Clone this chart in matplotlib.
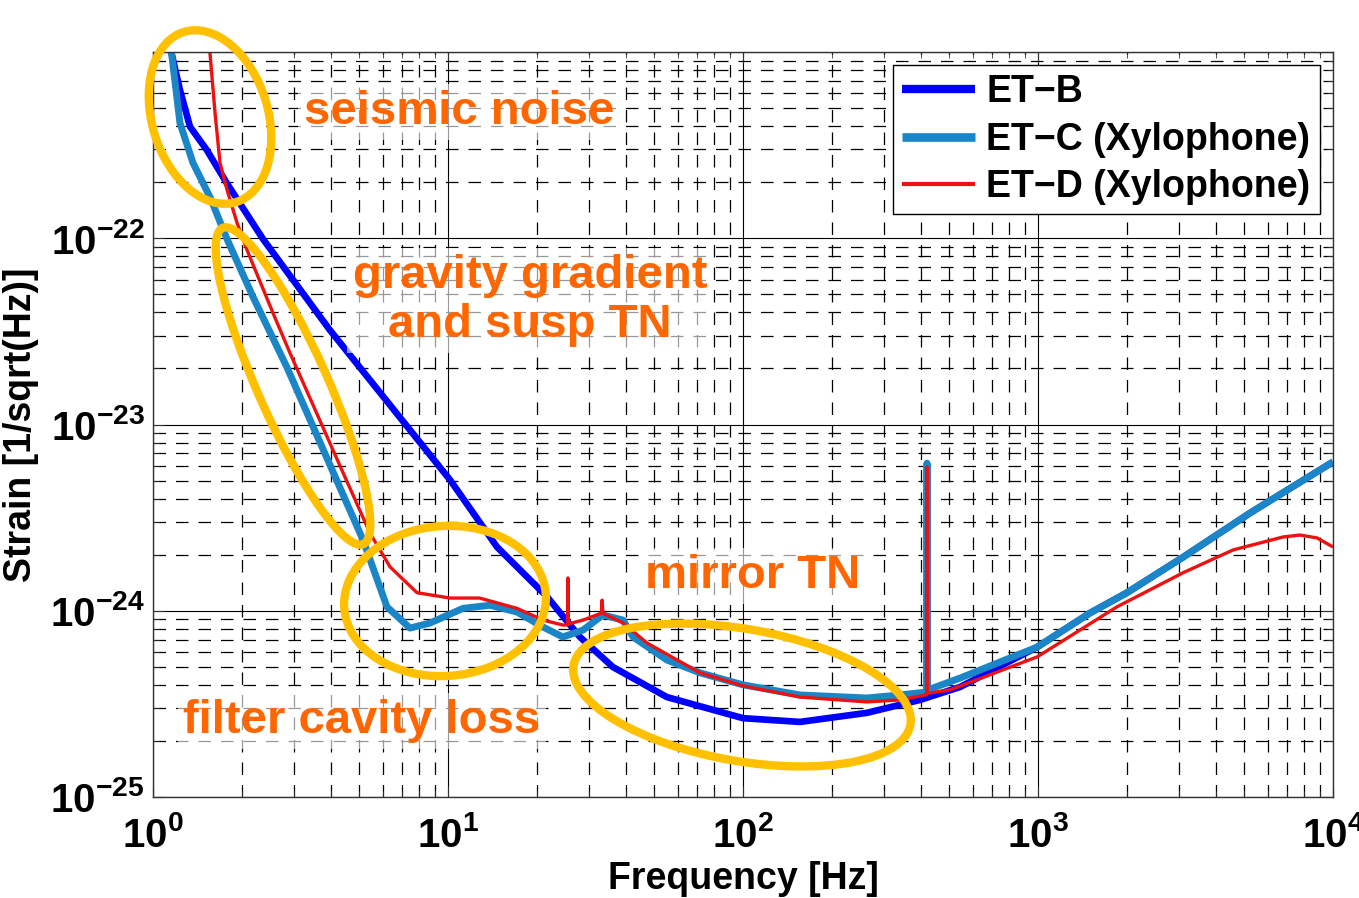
import matplotlib
matplotlib.use("Agg")
import matplotlib.pyplot as plt
from matplotlib.patches import Ellipse
from matplotlib.ticker import LogLocator, NullFormatter, FixedLocator, FixedFormatter

plt.rcParams['font.family'] = ['Liberation Sans', 'DejaVu Sans']
plt.rcParams['font.weight'] = 'bold'
plt.rcParams['mathtext.fontset'] = 'custom'
plt.rcParams['mathtext.rm'] = 'Liberation Sans:bold'
plt.rcParams['mathtext.bf'] = 'Liberation Sans:bold'

# ET-B
etb_f = [1.14, 1.157, 1.234, 1.335, 1.521, 1.777, 2.36, 3.98, 10.16, 14.66, 21.65,
         28.0, 36.2, 55.2, 100, 156, 263, 398, 545, 993, 1500, 2003, 3104, 5236, 10000]
etb_h = [1.05e-21, 9.76e-22, 6.25e-22, 3.97e-22, 2.98e-22, 1.98e-22, 9.9e-23, 3.21e-23,
         5.04e-24, 2.20e-24, 1.19e-24, 7.23e-25, 4.99e-25, 3.44e-25, 2.65e-25, 2.53e-25,
         2.83e-25, 3.32e-25, 3.90e-25, 6.38e-25, 9.72e-25, 1.25e-24, 1.94e-24, 3.35e-24, 6.3e-24]

# ET-C (Xylophone)
etc_f = [1.14, 1.157, 1.234, 1.366, 1.561, 1.782, 2.183, 2.84, 5.15, 6.21, 7.43, 8.69,
         11.24, 13.88, 17.13, 21.0, 24.5, 28.7, 33.5, 39.2, 42.4, 55.2, 71.5, 100, 156,
         263, 340, 419, 420.5, 422, 441, 544, 993, 1500, 2003, 3104, 5236, 10000]
etc_h = [1.05e-21, 9.76e-22, 4.16e-22, 2.54e-22, 1.66e-22, 9.9e-23, 4.84e-23, 2.04e-23,
         2.4e-24, 1.05e-24, 8.07e-25, 8.59e-25, 1.03e-24, 1.07e-24, 9.85e-25, 8.18e-25,
         7.23e-25, 7.88e-25, 9.49e-25, 8.91e-25, 7.23e-25, 5.44e-25, 4.64e-25, 4.0e-25,
         3.53e-25, 3.40e-25, 3.53e-25, 3.66e-25, 6.2e-24, 3.7e-25, 3.85e-25, 4.35e-25,
         6.38e-25, 9.72e-25, 1.25e-24, 1.94e-24, 3.35e-24, 6.3e-24]

# ET-D (Xylophone)
etd_f = [1.55, 1.561, 1.623, 1.687, 1.782, 1.927, 2.083, 2.551, 2.913, 4.41, 5.44, 6.36,
         7.85, 10.16, 12.8, 17.13, 21.0, 24.5, 25.4, 25.5, 25.6, 28.7, 33.1, 33.3, 33.5,
         39.2, 47.3, 71.5, 100, 156, 263, 340, 414, 419.5, 420.5, 421.5, 503, 993, 1853,
         3104, 4581, 6776, 7730, 8830, 10000]
etd_h = [1.05e-21, 9.76e-22, 4.70e-22, 2.54e-22, 1.82e-22, 1.21e-22, 8.65e-23, 3.97e-23,
         2.42e-23, 5.50e-24, 2.61e-24, 1.72e-24, 1.25e-24, 1.17e-24, 1.17e-24, 1.03e-24,
         8.91e-25, 8.38e-25, 8.4e-25, 1.5e-24, 8.5e-25, 8.91e-25, 9.7e-25, 1.14e-24, 9.7e-25,
         8.59e-25, 6.71e-25, 4.64e-25, 3.95e-25, 3.44e-25, 3.24e-25, 3.32e-25, 3.53e-25,
         3.55e-25, 5.92e-24, 3.6e-25, 3.76e-25, 5.65e-25, 1.05e-24, 1.60e-24, 2.12e-24,
         2.49e-24, 2.55e-24, 2.46e-24, 2.20e-24]

x_ticks = [1, 10, 100, 1000, 10000]
x_tick_labels = ['$10^{0}$', '$10^{1}$', '$10^{2}$', '$10^{3}$', '$10^{4}$']
y_ticks = [1e-25, 1e-24, 1e-23, 1e-22, 1e-21]
y_tick_labels = ['$10^{-25}$', '$10^{-24}$', '$10^{-23}$', '$10^{-22}$', '']

fig = plt.figure(figsize=(13.59, 8.98), dpi=100)
ax = fig.add_axes([153 / 1359, 1 - 797 / 898, 1180 / 1359, 745 / 898])

ax.plot(etb_f, etb_h, color='#0000ff', lw=4.8, label='ET\u2212B', solid_capstyle='butt')
ax.plot(etc_f, etc_h, color='#1a86c8', lw=5.0, label='ET\u2212C (Xylophone)', solid_capstyle='butt')
ax.plot(etd_f, etd_h, color='#ee1111', lw=2.4, label='ET\u2212D (Xylophone)', solid_capstyle='butt')

ax.set_xscale('log')
ax.set_yscale('log')
ax.set_xlim(1, 1e4)
ax.set_ylim(1e-25, 1e-21)

ax.xaxis.set_major_locator(FixedLocator(x_ticks))
ax.xaxis.set_major_formatter(FixedFormatter(x_tick_labels))
ax.yaxis.set_major_locator(FixedLocator(y_ticks))
ax.yaxis.set_major_formatter(FixedFormatter(y_tick_labels))
ax.xaxis.set_minor_locator(LogLocator(base=10, subs=range(2, 10), numticks=20))
ax.yaxis.set_minor_locator(LogLocator(base=10, subs=range(2, 10), numticks=20))
ax.xaxis.set_minor_formatter(NullFormatter())
ax.yaxis.set_minor_formatter(NullFormatter())

ax.tick_params(which='both', direction='in', top=True, right=True, colors='#333333')
ax.tick_params(which='major', length=8, width=0.8, labelsize=29, labelcolor='black')
ax.tick_params(which='minor', length=4, width=0.6)
ax.tick_params(axis='x', which='major', pad=14)
ax.tick_params(axis='y', which='major', pad=6)

ax.grid(True, which='major', color='black', lw=0.8, ls='-')
ax.grid(True, which='minor', color='black', lw=0.9, ls=(0, (10, 8)))
ax.set_axisbelow(True)
for s in ax.spines.values():
    s.set_color('#333333')
    s.set_linewidth(1.0)

ax.set_xlabel('Frequency [Hz]', fontsize=27, fontweight='bold', labelpad=4)
ax.set_ylabel('Strain [1/sqrt(Hz)]', fontsize=27, fontweight='bold', labelpad=8)

leg = ax.legend(loc='upper right', fontsize=27, handlelength=1.95, handletextpad=0.3,
                labelspacing=0.3, borderpad=0.25, borderaxespad=0.35, fancybox=False,
                framealpha=1, edgecolor='black')
leg.get_frame().set_linewidth(1.0)
for ln in leg.get_lines():
    ln.set_linewidth(ln.get_linewidth() * 1.25)

# overlay in pixel coordinates for the annotations
ov = fig.add_axes([0, 0, 1, 1])
ov.set_xlim(0, 1359)
ov.set_ylim(898, 0)
ov.axis('off')
ov.patch.set_alpha(0)

gold = '#ffc000'
for (cx, cy, w, h, ang) in [(210, 117, 178, 116, 73),
                             (293, 386, 346, 70, 66),
                             (445, 601, 202, 150, -4),
                             (742, 695, 342, 132, 10)]:
    ov.add_patch(Ellipse((cx, cy), w, h, angle=ang, fill=False, ec=gold, lw=6))

orange = '#ff6600'
box = dict(facecolor='white', alpha=0.6, edgecolor='none', pad=4)
ov.text(459, 124, 'seismic noise', color=orange, fontsize=34, fontweight='bold',
        ha='center', va='baseline', bbox=box)
ov.text(530, 337, 'gravity gradient\nand susp TN', color=orange, fontsize=34,
        fontweight='bold', ha='center', va='baseline', multialignment='center',
        linespacing=1.15, bbox=box)
ov.text(753, 588, 'mirror TN', color=orange, fontsize=34, fontweight='bold',
        ha='center', va='baseline', bbox=box)
ov.text(362, 733, 'filter cavity loss', color=orange, fontsize=34, fontweight='bold',
        ha='center', va='baseline', bbox=box)

fig.savefig('out.png', dpi=100)
